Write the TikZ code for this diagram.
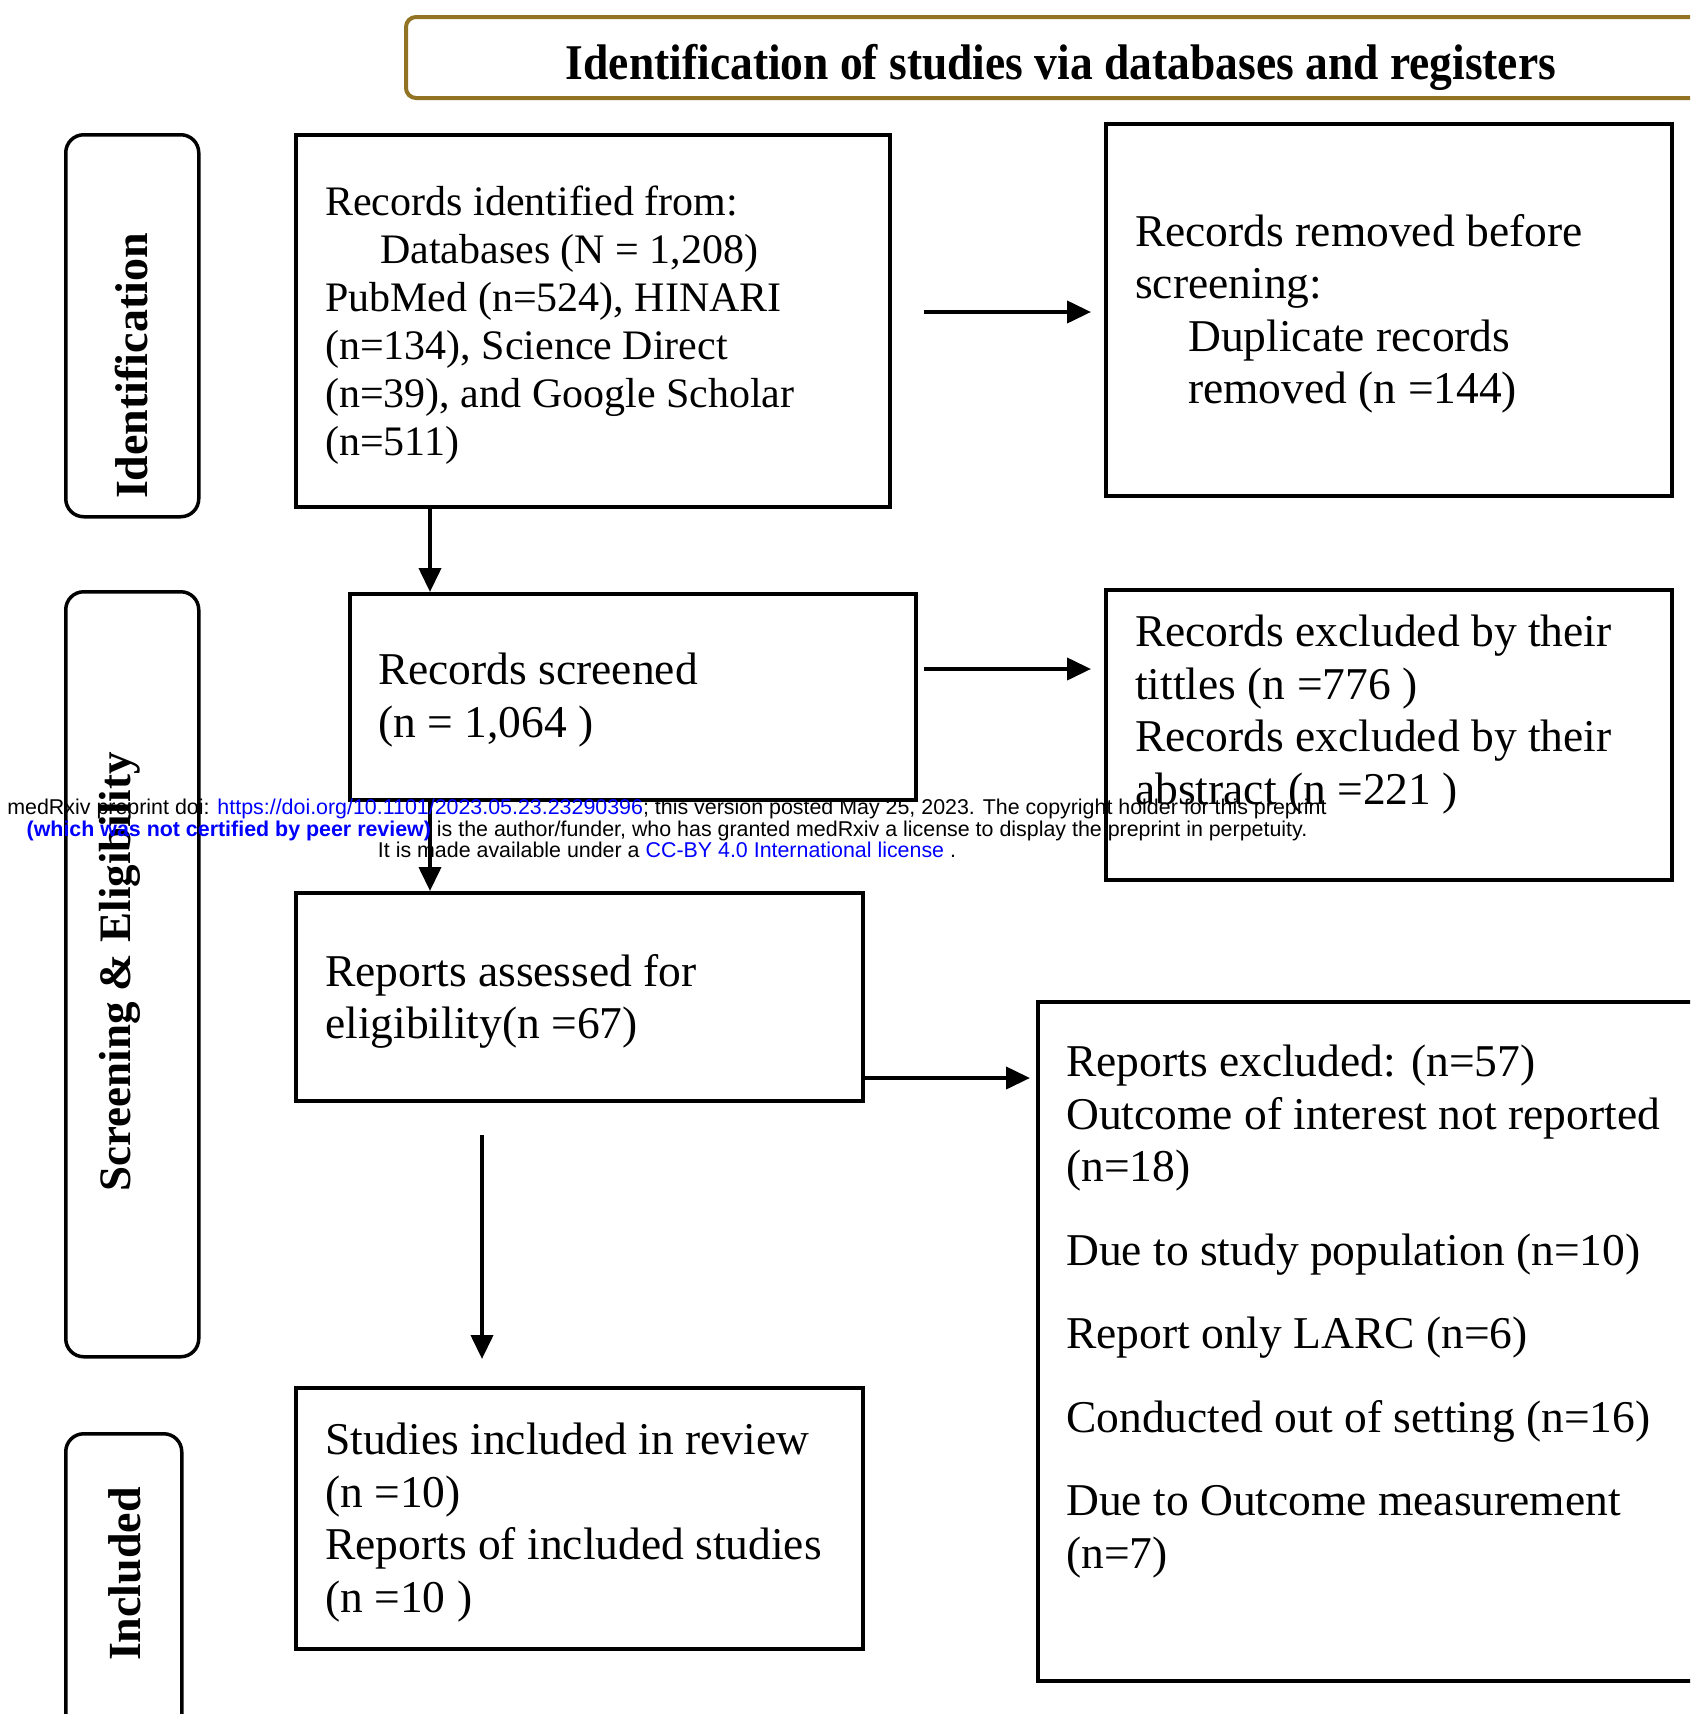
\documentclass[tikz,border=0pt]{standalone}
\usepackage{fontspec}
\setmainfont{Liberation Serif}
\newfontfamily\wmfont{Liberation Sans}
\usetikzlibrary{arrows.meta,calc}
\definecolor{gold}{RGB}{145,115,35}
\definecolor{linkblue}{RGB}{0,0,255}
\begin{document}
\begin{tikzpicture}[x=1pt,y=-1pt,
  box/.style={draw, line width=3.5pt, anchor=north west, inner sep=0pt},
  side/.style={draw, line width=3.5pt, rounded corners=18pt, anchor=north west, inner sep=0pt},
  txt/.style={anchor=north west, inner sep=0pt, align=left, font=\fontsize{45.5}{52.5}\selectfont},
  txtsmall/.style={anchor=north west, inner sep=0pt, align=left, font=\fontsize{42}{48}\selectfont},
  lab/.style={rotate=90, anchor=base, inner sep=0pt, font=\fontsize{46}{46}\selectfont\bfseries},
  wm/.style={anchor=base, inner sep=0pt, font=\wmfont\fontsize{21.4}{21.5}\selectfont},
  arr/.style={line width=4pt, -{Triangle[length=24pt,width=22pt]}},
]
\useasboundingbox (0,0) rectangle (1690,1714);
\clip (0,0) rectangle (1690,1714);

% header
\node[box, draw=gold, line width=4pt, rounded corners=10pt, minimum width=1330pt, minimum height=81pt] (hdr) at (404,15) {};
\node[anchor=base, inner sep=0pt, font=\fontsize{50}{50}\selectfont\bfseries] (title) at (1061,79) {\scalebox{0.91}[1]{Identification of studies via databases and registers}};

% side boxes
\node[side, minimum width=133pt, minimum height=382pt] (sid) at (64,133) {};
\node[side, minimum width=133pt, minimum height=765pt] (sse) at (64,590) {};
\node[side, minimum width=116pt, minimum height=330pt] (sin) at (64,1432) {};
\node[lab] (lid) at (147,366) {Identification};
\node[lab, font=\fontsize{45}{45}\selectfont\bfseries] (lse) at (130,972) {Screening \& Eligibility};
\node[lab] (lin) at (140,1574) {Included};

% boxes
\node[box, minimum width=594pt, minimum height=372pt] (b1) at (294,133) {};
\node[box, minimum width=566pt, minimum height=372pt] (rb1) at (1104,122) {};
\node[box, minimum width=566pt, minimum height=206pt] (b2) at (348,592) {};
\node[box, minimum width=566pt, minimum height=290pt] (rb2) at (1104,588) {};
\node[box, minimum width=567pt, minimum height=208pt] (b3) at (294,891) {};
\node[box, minimum width=720pt, minimum height=679pt] (rb3) at (1036,1000) {};
\node[box, minimum width=567pt, minimum height=261pt] (b4) at (294,1386) {};

% texts
\node[txtsmall] (t1) at (325,186) {Records identified from:\\
\hspace*{55pt}Databases (N = 1,208)\\
PubMed (n=524), HINARI\\
(n=134), Science Direct\\
(n=39), and Google Scholar\\
(n=511)};
\node[txt] (rt1) at (1135,214) {Records removed before\\
screening:\\
\hspace*{53pt}Duplicate records\\
\hspace*{53pt}removed (n =144)};
\node[txt] (t2) at (378,653) {Records screened\\(n = 1,064 )};
\node[txt] (rt2) at (1135,615) {Records excluded by their\\
tittles (n =776 )\\
Records excluded by their\\
abstract (n =221 )};
\node[txt] (t3) at (325,954) {Reports assessed for\\eligibility(n =67)};
\node[txt] (rt3) at (1066,1045) {Reports excluded: (n=57)\\
Outcome of interest not reported\\
(n=18)\\[31pt]
Due to study population (n=10)\\[31pt]
Report only LARC (n=6)\\[31pt]
Conducted out of setting (n=16)\\[31pt]
Due to Outcome measurement\\
(n=7)};
\node[txt] (t4) at (325,1423) {Studies included in review\\
(n =10)\\
Reports of included studies\\
(n =10 )};

% connectors
\coordinate (d1) at (430,0);
\coordinate (d3s) at (482,1135);
\coordinate (a1s) at (924,312);
\coordinate (a2s) at (924,669);
\coordinate (a3s) at (861,1078);
\draw[arr] (b1.south -| d1) -- (b2.north -| d1);
\draw[arr] (b2.south -| d1) -- (b3.north -| d1);
\draw[arr, shorten >=27pt] (d3s) -- (d3s |- b4.north);
\draw[arr, shorten >=13pt] (a1s) -- (a1s -| rb1.west);
\draw[arr, shorten >=13pt] (a2s) -- (a2s -| rb2.west);
\draw[arr, shorten >=6pt] (a3s) -- (a3s -| rb3.west);

% watermark
\node[wm] (w1) at (667,814) {medRxiv preprint doi: \textcolor{linkblue}{https://doi.org/10.1101/2023.05.23.23290396}; this version posted May 25, 2023. The copyright holder for this preprint};
\node[wm] (w2) at (667,836) {\textcolor{linkblue}{\bfseries(which was not certified by peer review)} is the author/funder, who has granted medRxiv a license to display the preprint in perpetuity.};
\node[wm] (w3) at (667,857) {It is made available under a \textcolor{linkblue}{CC-BY 4.0 International license} .};
\end{tikzpicture}
\end{document}
